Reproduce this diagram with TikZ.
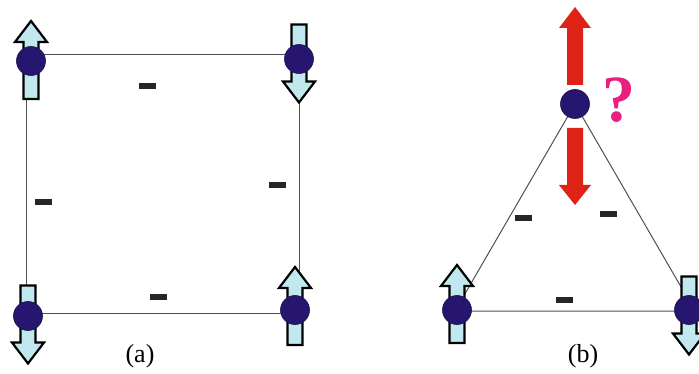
\documentclass[tikz,border=0pt]{standalone}
\usepackage{fontspec}
\setmainfont{Liberation Serif}
\definecolor{atomblue}{RGB}{38,22,112}
\definecolor{spinfill}{RGB}{192,232,238}
\definecolor{spinred}{RGB}{222,34,22}
\definecolor{qpink}{RGB}{232,30,128}
\definecolor{bondgray}{RGB}{80,80,80}
\tikzset{
  atom/.style={circle, fill=atomblue, draw=atomblue!70!black, line width=0.6pt, minimum size=29pt, inner sep=0pt},
  bond/.style={draw=bondgray, line width=1pt},
  minus/.style={fill=black!85, draw=none},
  spinpoly/.style={fill=spinfill, draw=black, line width=2.2pt, line join=miter},
  redpoly/.style={fill=spinred, draw=none},
  caption/.style={font=\fontsize{26}{28}\selectfont, inner sep=0pt},
  pics/spinup/.style={code={
    \path[spinpoly] (0,-39) -- (16,-18) -- (7.5,-18) -- (7.5,39) -- (-7.5,39) -- (-7.5,-18) -- (-16,-18) -- cycle;}},
  pics/spindown/.style={code={
    \path[spinpoly] (0,39) -- (16,18) -- (7.5,18) -- (7.5,-39) -- (-7.5,-39) -- (-7.5,18) -- (-16,18) -- cycle;}},
}
\newcommand{\dash}[1]{\path[minus] ($#1+(-8.5,-3)$) rectangle ($#1+(8.5,3)$);}
\usetikzlibrary{calc}
\begin{document}
\begin{tikzpicture}[x=1pt,y=-1pt]
\useasboundingbox (0,0) rectangle (699,374);

% ---- (a) square lattice ----
\coordinate (sTL) at (26,55);
\coordinate (sTR) at (299,55);
\coordinate (sBL) at (26,313);
\coordinate (sBR) at (299,313);
\draw[bond] (sTL) -- (sTR) -- (sBR) -- (sBL) -- cycle;

\pic at (31,60) {spinup};
\pic at (299,63.5) {spindown};
\pic at (28,324.5) {spindown};
\pic at (295,306) {spinup};

\node[atom] (a1) at (31,61) {};
\node[atom] (a2) at (299,59) {};
\node[atom] (a3) at (28,316) {};
\node[atom] (a4) at (295,310) {};

\dash{(147,86)}
\dash{(43,202)}
\dash{(277,185)}
\dash{(158,297)}

\node[caption] (la) at (140,356) {(a)};

% ---- (b) triangular plaquette ----
\coordinate (tT) at (575,104);
\coordinate (tL) at (455,311);
\coordinate (tR) at (695,311);
\draw[bond] (tT) -- (tL) -- (tR) -- cycle;

% frustrated spin: both directions
\path[redpoly] (575,7) -- (591,28) -- (583,28) -- (583,85) -- (567,85) -- (567,28) -- (559,28) -- cycle;
\path[redpoly] (575,205) -- (591,185) -- (583,185) -- (583,128) -- (567,128) -- (567,185) -- (559,185) -- cycle;

\pic at (457,304) {spinup};
\pic at (689,315.5) {spindown};

\node[atom] (b1) at (575,104) {};
\node[atom] (b2) at (457,310) {};
\node[atom] (b3) at (689,310) {};

\node[font=\fontsize{66}{66}\selectfont\bfseries, text=qpink, inner sep=0pt] (q) at (619,100) {?};

\dash{(523,218)}
\dash{(608,214)}
\dash{(564,300)}

\node[caption] (lb) at (583,356) {(b)};
\end{tikzpicture}
\end{document}
